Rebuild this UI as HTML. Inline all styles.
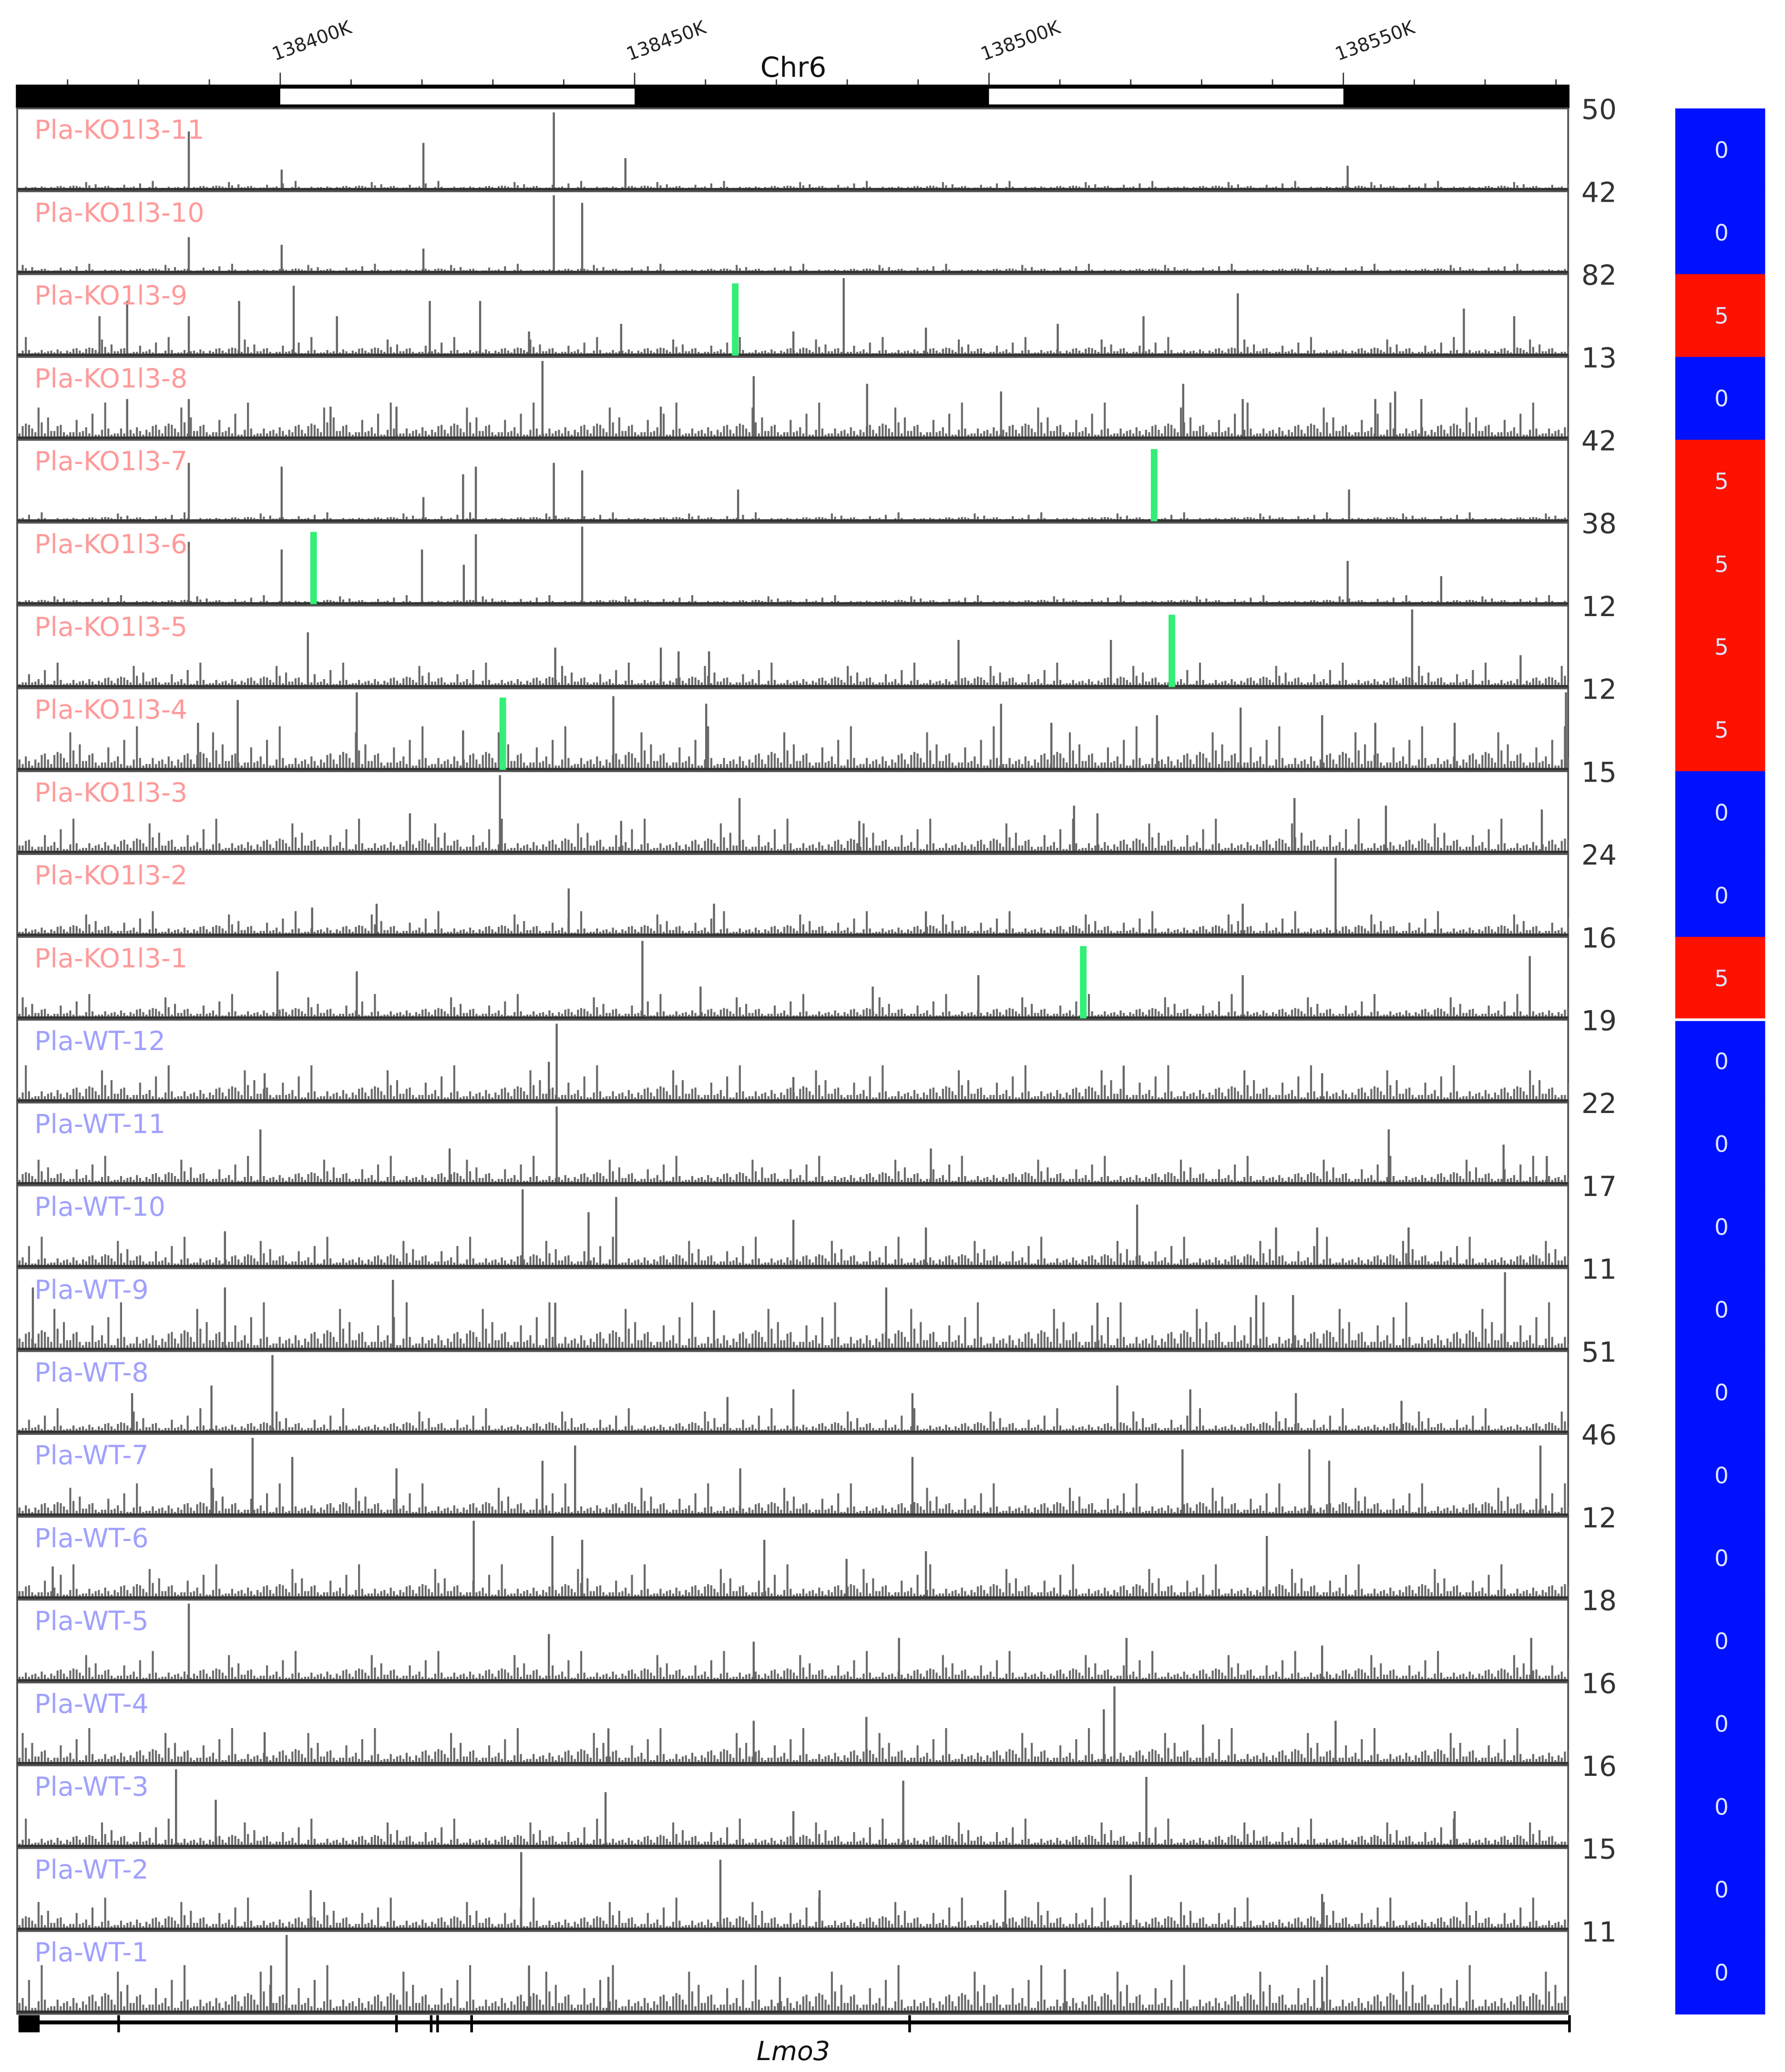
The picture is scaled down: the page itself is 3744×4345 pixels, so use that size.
<!DOCTYPE html>
<html><head><meta charset="utf-8"><style>
html,body{margin:0;padding:0;background:#fff}
svg{display:block}
text{font-family:"DejaVu Sans","Liberation Sans",sans-serif}
</style></head><body>
<svg id="chart" xmlns="http://www.w3.org/2000/svg" width="3744" height="4345" viewBox="0 0 1350 1567" preserveAspectRatio="none">
<g id="ruler"></g>
<g id="tracks"></g>
<g id="heat"></g>
<g id="gene"></g>
</svg>
<script>
// ---------- data ----------
const viewStartK = 138362.7;
const viewEndK = 138581.9;
const rulerLabels = ["138400K","138450K","138500K","138550K"];
const rulerMajorK = [138400,138450,138500,138550];
const chromName = "Chr6";
const trackNames = ["Pla-KO1l3-11","Pla-KO1l3-10","Pla-KO1l3-9","Pla-KO1l3-8","Pla-KO1l3-7","Pla-KO1l3-6","Pla-KO1l3-5","Pla-KO1l3-4","Pla-KO1l3-3","Pla-KO1l3-2","Pla-KO1l3-1",
 "Pla-WT-12","Pla-WT-11","Pla-WT-10","Pla-WT-9","Pla-WT-8","Pla-WT-7","Pla-WT-6","Pla-WT-5","Pla-WT-4","Pla-WT-3","Pla-WT-2","Pla-WT-1"];
const trackGroup = ["KO","KO","KO","KO","KO","KO","KO","KO","KO","KO","KO","WT","WT","WT","WT","WT","WT","WT","WT","WT","WT","WT","WT"];
const trackMax = [50,42,82,13,42,38,12,12,15,24,16,19,22,17,11,51,46,12,18,16,16,15,11];
const scores = [0,0,5,0,5,5,5,5,0,0,5,0,0,0,0,0,0,0,0,0,0,0,0];
const noiseLevel = [0.04,0.04,0.09,0.18,0.04,0.04,0.12,0.22,0.17,0.12,0.12,0.18,0.14,0.15,0.24,0.12,0.16,0.17,0.15,0.18,0.14,0.16,0.24];
const noisePattern = [0.3,1,0.5,0.2,0.8,0.4,1.4,0.3,0.6,0.9,0.2,0.5,2.4,0.4,0.7,0.3,1,0.6,0.2,1.2,0.5,0.3,0.9,0.4,2.8,0.6,0.3,0.8,0.5,1.1,0.2,0.7,0.4,1.6,0.3,0.6,1,0.4,0.2,0.9,0.5,1.9,0.3,0.7,0.4];
const peakOffsetKb = [
 [24.4,57.5,75.9,86.0,187.9,37.5],
 [24.4,37.5,75.9,79.9,57.5],
 [11.8,15.7,24.4,31.5,39.2,45.3,58.4,65.5,116.8,147.0,159.1,172.4,204.3,211.4,72.4,85.4,109.7,128.4],
 [15.7,24.4,74.3,104.1,120.1,139.0,164.7,173.1,191.8,194.6,198.3,44.4,53.7,91.0],
 [24.4,37.5,63.1,64.9,75.9,79.9,101.9,188.1,57.5],
 [24.4,37.5,57.3,63.2,64.9,79.9,187.9,201.1],
 [41.2,197.0,133.0,154.5,76.1,91.0,93.5,97.8,212.3],
 [31.3,48.1,84.3,97.4,139.0,146.1,161.0,172.8,184.3,218.7,191.8,203.0,25.7,63.1],
 [68.3,102.1,149.3,152.6,180.4,193.3,215.3,55.6,85.4,119.0],
 [186.2,78.0,98.5,50.9,173.1,41.8,128.4],
 [88.4,213.6,173.1,36.9,48.1,135.8,120.9,96.6],
 [76.3,75.2,156.3,35.1,109.7,184.3],
 [76.3,34.5,193.7,209.9,129.1,61.2,216.0],
 [71.5,84.7,80.8,109.7,158.2,177.8,183.6,196.5,29.5,128.4],
 [210.1,53.2,29.5,122.8,175.0,180.2,76.1,98.5,152.6,2.4],
 [36.2,16.4,27.6,109.7,126.5,155.4,165.7,180.6,195.5,100.4],
 [33.4,39.0,78.9,74.3,126.5,182.5,185.3,215.1,164.6,27.6,53.7,102.2],
 [64.6,75.7,79.9,105.6,176.5,117.2,128.4,5.2],
 [24.4,75.2,104.1,124.6,156.7,184.3,213.8],
 [155.0,186.2,104.1,120.0,83.6,153.5,167.5,35.1],
 [22.6,125.2,159.5,83.2,28.2,109.7,203.0],
 [71.3,99.4,157.3,139.6,41.6,113.4,184.3],
 [38.2,148.0,36.0,72.4,107.8,184.3,83.6]
];
const peakSignal = [
 [0.75,0.6,1.0,0.4,0.3,0.25],
 [0.45,0.35,1.0,0.9,0.3],
 [0.5,0.7,0.5,0.7,0.9,0.5,0.7,0.7,1.0,0.4,0.5,0.8,0.6,0.5,0.3,0.4,0.3,0.35],
 [0.5,0.5,1.0,0.8,0.7,0.6,0.7,0.5,0.5,0.6,0.5,0.4,0.4,0.4],
 [0.75,0.7,0.6,0.7,0.75,0.65,0.4,0.4,0.3],
 [0.8,0.7,0.7,0.5,0.9,1.0,0.55,0.35],
 [0.7,1.0,0.6,0.6,0.5,0.5,0.45,0.45,0.4],
 [0.9,1.0,0.95,0.85,0.85,0.6,0.7,0.8,0.7,1.0,0.6,0.6,0.6,0.5],
 [1.0,0.7,0.6,0.5,0.7,0.6,0.55,0.5,0.4,0.4],
 [1.0,0.6,0.4,0.4,0.4,0.35,0.3],
 [1.0,0.8,0.55,0.6,0.6,0.55,0.4,0.4],
 [1.0,0.5,0.45,0.35,0.3,0.35],
 [1.0,0.7,0.7,0.5,0.45,0.45,0.35],
 [1.0,0.9,0.7,0.6,0.8,0.5,0.5,0.5,0.45,0.5],
 [1.0,0.9,0.8,0.8,0.7,0.7,0.6,0.5,0.6,0.8],
 [1.0,0.5,0.6,0.55,0.5,0.6,0.55,0.5,0.4,0.45],
 [1.0,0.75,0.9,0.7,0.75,0.85,0.7,0.9,0.85,0.6,0.6,0.6],
 [1.0,0.8,0.75,0.75,0.8,0.5,0.6,0.4],
 [1.0,0.6,0.5,0.55,0.55,0.45,0.55],
 [1.0,0.55,0.55,0.6,0.45,0.7,0.5,0.4],
 [1.0,0.85,0.9,0.7,0.6,0.45,0.45],
 [1.0,0.9,0.7,0.5,0.5,0.5,0.45],
 [1.0,0.55,0.6,0.6,0.45,0.45,0.45]
];
const markTrack = [2,4,5,6,7,10];
const markOffsetKb = [101.5,160.6,42.0,163.1,68.7,150.6];
const exonOffsetKb = [14.5,53.7,58.6,59.5,64.3,126.1];

// ---------- layout ----------
const NS = "http://www.w3.org/2000/svg";
const X0 = 12, X1 = 1187, TOP = 82, BOTTOM = 1523;
const pxPerKb = (X1 - X0) / (viewEndK - viewStartK);
const xOff = o => X0 + o * pxPerKb;
const xAbs = k => X0 + (k - viewStartK) * pxPerKb;
const nT = trackNames.length;
const pitch = (BOTTOM - TOP) / nT;
function mk(tag, attrs, parent){ const e=document.createElementNS(NS,tag); for(const k in attrs) e.setAttribute(k,attrs[k]); parent.appendChild(e); return e; }

const ruler = document.getElementById('ruler');
let rb = mk('rect',{x:X0,y:64,width:X1-X0,height:18,fill:'#000'},ruler);


for(let i=0;i<rulerMajorK.length;i+=2){
  const a=xAbs(rulerMajorK[i]), b=xAbs(rulerMajorK[i+1]);
  const w=mk('rect',{x:a,y:67,width:b-a,height:12,fill:'#fff'},ruler);
  
  
}
for(let k=138370;k<=138580;k+=10){
  const x=xAbs(k); const major = rulerMajorK.includes(k);
  mk('line',{x1:x,x2:x,y1:major?55:60,y2:64,stroke:'#333','stroke-width':1},ruler);
}
rulerLabels.forEach((l,i)=>{
  const x=xAbs(rulerMajorK[i]);
  const t=mk('text',{x:x-4,y:46,'font-size':14,fill:'#222',transform:`rotate(-20 ${x-4} 46)`},ruler);
  t.textContent=l;
  
  
});
const ct=mk('text',{x:600,y:58,'font-size':21,fill:'#111','text-anchor':'middle'},ruler);
ct.textContent=chromName;



const tracks=document.getElementById('tracks');
for(let t=0;t<nT;t++){
  const top=TOP+t*pitch, base=top+pitch-2, h=pitch-5;
  const g=mk('g',{},tracks);
  
  
  mk('rect',{x:X0+1,y:top,width:X1-X0-2,height:pitch,fill:'none',stroke:'#555','stroke-width':1.4},g);
  let i=0;
  for(let x=X0+2;x<X1-1;x+=2.4,i++){
    const v=noiseLevel[t]*noisePattern[(i*7+t*5)%noisePattern.length];
    const bh=Math.min(h, v*h*0.9);
    mk('rect',{x:x,y:base-bh,width:1.5,height:bh,fill:'#6a6a6a'},g);
  }
  peakOffsetKb[t].forEach((o,j)=>{
    const bh=peakSignal[t][j]*h;
    const p=mk('rect',{x:xOff(o)-0.8,y:base-bh,width:1.6,height:bh,fill:'#666'},g);
    
    
  });
  mk('rect',{x:X0+1,y:base-0.5,width:X1-X0-2,height:2,fill:'#333'},g);
  const lb=mk('text',{x:26,y:top+23,'font-size':20,fill:trackGroup[t]==='KO'?'#ff9a9a':'#a0a0ff'},g);
  lb.textContent=trackNames[t];
  
  
  const mx=mk('text',{x:1196,y:top+8,'font-size':21,fill:'#333'},g);
  mx.textContent=trackMax[t];
  
  
}
markTrack.forEach((t,i)=>{
  const top=TOP+t*pitch;
  const m=mk('rect',{x:xOff(markOffsetKb[i])-2.5,y:top+7,width:5,height:pitch-8,fill:'#33ee77'},tracks);
  
  
});

const heat=document.getElementById('heat');
for(let t=0;t<nT;t++){
  const top=TOP+t*pitch;
  const c=mk('rect',{x:1267,y:top,width:68,height:pitch+0.5,fill:scores[t]>0?'#ff1100':'#0011ff'},heat);
  
  
  const tx=mk('text',{x:1302,y:top+pitch/2+6,'font-size':17,fill:'#dde4ff','text-anchor':'middle'},heat);
  tx.textContent=scores[t];
  
  
}
mk('rect',{x:1267,y:TOP+11*pitch-1,width:68,height:2,fill:'#fff'},heat);

const gene=document.getElementById('gene');
mk('rect',{x:X0+2,y:1528,width:X1-X0-2,height:3,fill:'#000'},gene);
mk('rect',{x:X0+2,y:1524,width:16,height:13,fill:'#000'},gene);
exonOffsetKb.forEach(o=>{ const x=xOff(o); mk('rect',{x:x-1,y:1524,width:2,height:13,fill:'#000'},gene); });
mk('rect',{x:X1-1,y:1524,width:2,height:13,fill:'#000'},gene);
const gl=mk('text',{x:600,y:1558,'font-size':20,'font-style':'italic',fill:'#111','text-anchor':'middle'},gene);
gl.textContent="Lmo3";


</script>
</body></html>
